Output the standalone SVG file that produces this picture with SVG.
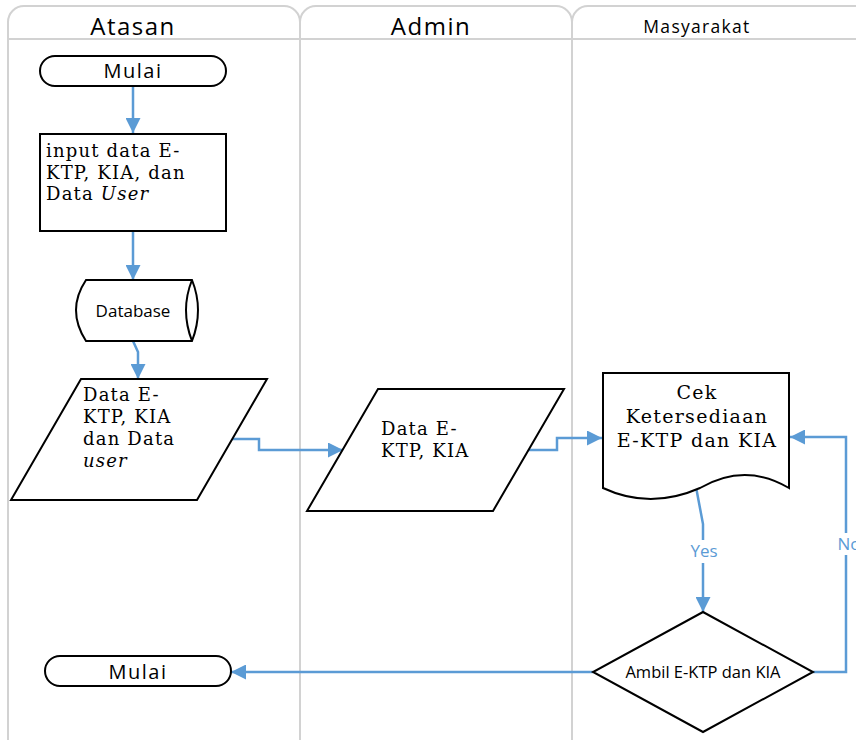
<svg xmlns="http://www.w3.org/2000/svg" width="856" height="740" viewBox="0 0 856 740">
<defs>
<style>
.lane{fill:none;stroke:#d2d2d2;stroke-width:2}
.shape{fill:#fff;stroke:#000;stroke-width:2}
.conn{fill:none;stroke:#5b9bd5;stroke-width:2.5}
.sans{font-family:"Open Sans","Liberation Sans",sans-serif;fill:#000}
.serif{font-family:"DejaVu Serif","Liberation Serif",serif;fill:#000;font-size:18px;letter-spacing:1.2px}
.lbl{font-family:"Open Sans","Liberation Sans",sans-serif;fill:#5b9bd5;font-size:17px;text-anchor:middle}
</style>
<marker id="arr" viewBox="0 0 10 10" refX="10" refY="5" markerWidth="6" markerHeight="6" markerUnits="strokeWidth" orient="auto">
<path d="M0,0 L10,5 L0,10 z" fill="#5b9bd5"/>
</marker>
</defs>
<g id="lanes">
<rect class="lane" x="8" y="6" width="292" height="750" rx="16"/>
<rect class="lane" x="300" y="6" width="272" height="750" rx="16"/>
<rect class="lane" x="572" y="6" width="300" height="750" rx="16"/>
<line class="lane" x1="8" y1="39" x2="856" y2="39"/>
<text class="sans" x="133" y="35" font-size="24" letter-spacing="1.5" text-anchor="middle">Atasan</text>
<text class="sans" x="431" y="35" font-size="24" letter-spacing="1.5" text-anchor="middle">Admin</text>
<text class="sans" x="697" y="33" font-size="17.5" letter-spacing="1.3" text-anchor="middle">Masyarakat</text>
</g>
<g id="connectors">
<path class="conn" d="M133,86 V133" marker-end="url(#arr)"/>
<path class="conn" d="M133,231 V280" marker-end="url(#arr)"/>
<path class="conn" d="M133,341 L138,352 V379" marker-end="url(#arr)"/>
<path class="conn" d="M231,439 H259 V450 H343" marker-end="url(#arr)"/>
<path class="conn" d="M528,450 H557 V438 H602" marker-end="url(#arr)"/>
<path class="conn" d="M696,487 L703,524 V540"/>
<path class="conn" d="M703,563 V612" marker-end="url(#arr)"/>
<text class="lbl" x="704" y="557">Yes</text>
<path class="conn" d="M813,672 H846 V555"/>
<path class="conn" d="M846,533 V437 H790" marker-end="url(#arr)"/>
<text class="lbl" x="849" y="550">No</text>
<path class="conn" d="M593,672 H231" marker-end="url(#arr)"/>
</g>
<g id="start">
<rect class="shape" x="40" y="56" width="186" height="30" rx="15"/>
<text class="sans" x="133" y="78" font-size="20" letter-spacing="1.5" text-anchor="middle">Mulai</text>
</g>
<g id="input">
<rect class="shape" x="40" y="134" width="186" height="97"/>
<text class="serif" x="46" y="157">input data E-</text>
<text class="serif" x="46" y="179">KTP, KIA, dan</text>
<text class="serif" x="46" y="200">Data <tspan font-style="italic">User</tspan></text>
</g>
<g id="database">
<path class="shape" d="M86,280 H192 Q204,310 192,341 H86 Q66,310 86,280 Z"/>
<path class="shape" d="M192,280 Q180,310 192,341"/>
<text class="sans" x="133" y="317" font-size="17" text-anchor="middle">Database</text>
</g>
<g id="data1">
<polygon class="shape" points="81,379 267,379 197,500 11,500"/>
<text class="serif" x="83" y="401">Data E-</text>
<text class="serif" x="83" y="423">KTP, KIA</text>
<text class="serif" x="83" y="445">dan Data</text>
<text class="serif" x="83" y="467" font-style="italic">user</text>
</g>
<g id="data2">
<polygon class="shape" points="378,389 564,389 493,511 307,511"/>
<text class="serif" x="381" y="435">Data E-</text>
<text class="serif" x="381" y="457">KTP, KIA</text>
</g>
<g id="cek">
<path class="shape" d="M603,373 H789 V488 Q745,462 700,488 Q650,510 603,488 Z"/>
<text class="serif" x="697" y="399" text-anchor="middle" style="font-size:19px;letter-spacing:1.3px">Cek</text>
<text class="serif" x="697" y="423" text-anchor="middle" style="font-size:19px;letter-spacing:1.3px">Ketersediaan</text>
<text class="serif" x="697" y="447" text-anchor="middle" style="font-size:19px;letter-spacing:1.3px">E-KTP dan KIA</text>
</g>
<g id="ambil">
<polygon class="shape" points="703,612 813,672 703,732 593,672"/>
<text class="sans" x="703" y="678" font-size="16.5" text-anchor="middle">Ambil E-KTP dan KIA</text>
</g>
<g id="end">
<rect class="shape" x="45" y="656" width="186" height="30" rx="15"/>
<text class="sans" x="138" y="679" font-size="20" letter-spacing="1.5" text-anchor="middle">Mulai</text>
</g>
</svg>
